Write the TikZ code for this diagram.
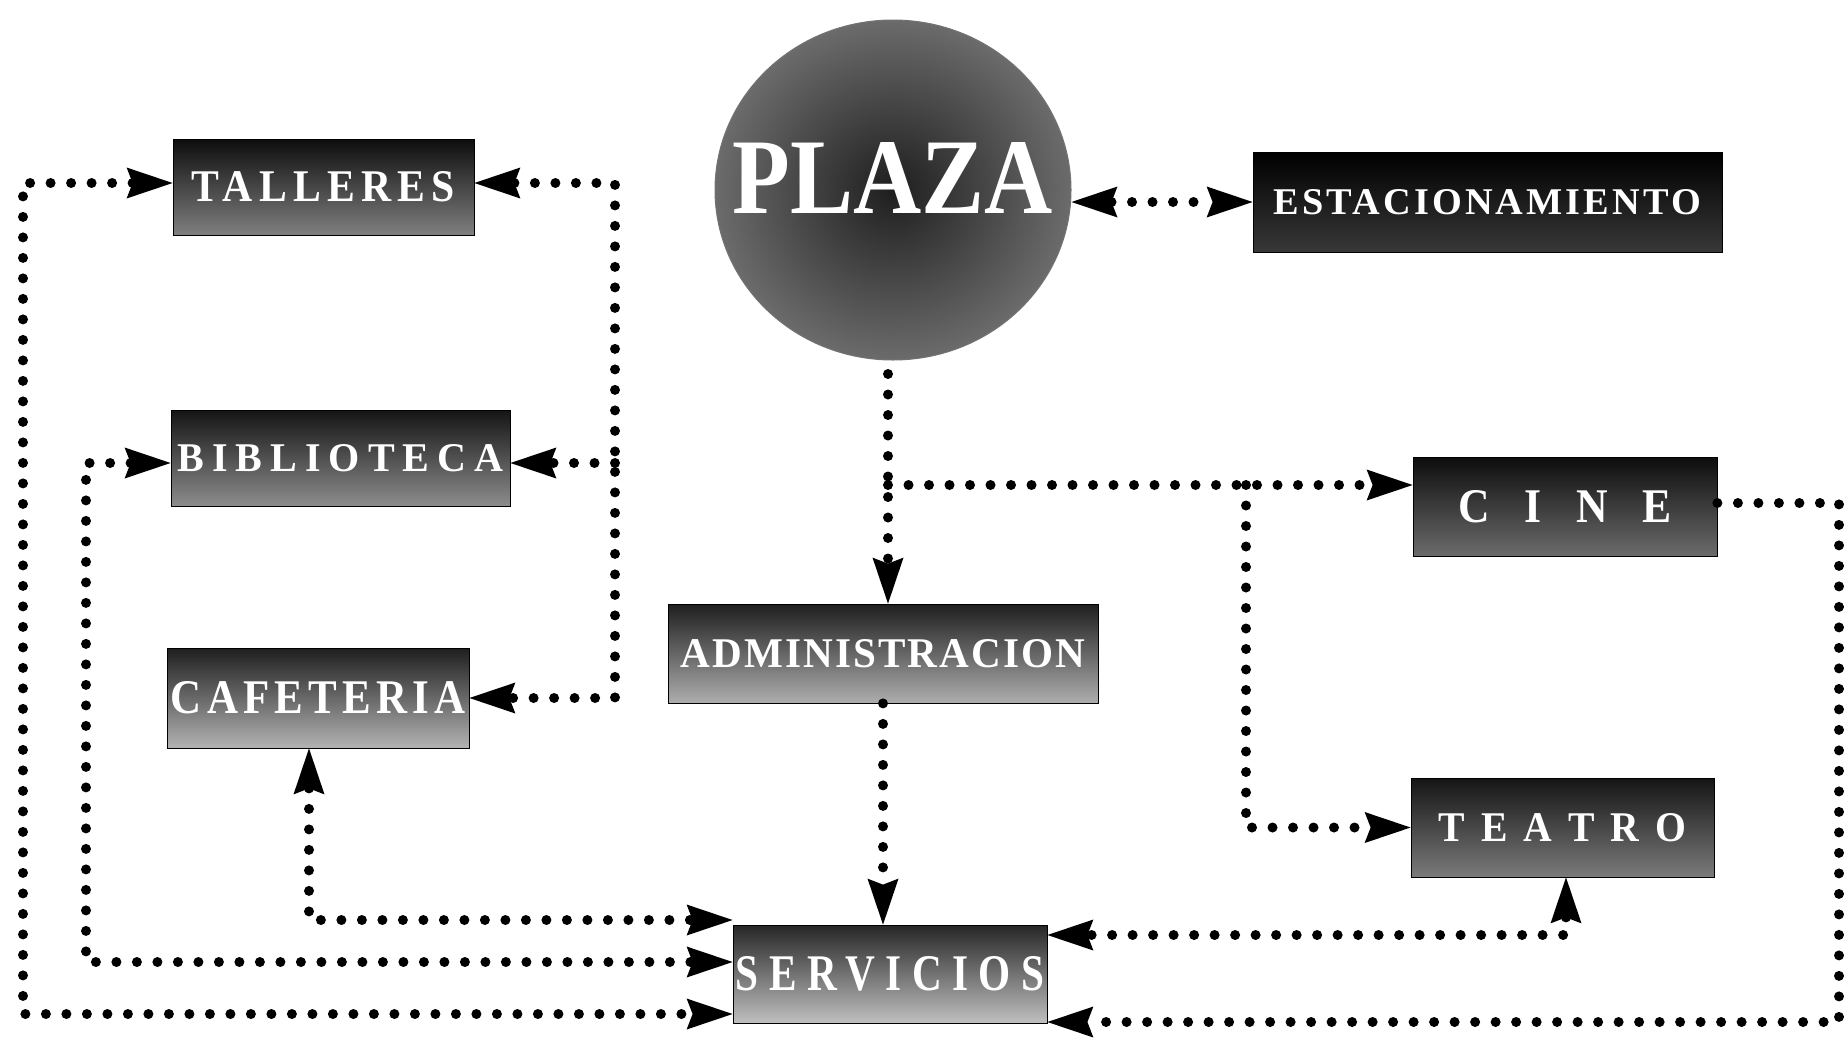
\documentclass[tikz,border=0pt]{standalone}
\usepackage{fontspec}
\setmainfont{Liberation Serif}
\usepackage{graphicx}
\usetikzlibrary{arrows.meta,shapes.geometric}
\newcommand\boxtxt[4]{\resizebox{#1pt}{#2pt}{\bfseries\addfontfeatures{LetterSpace=#3}#4}}
\begin{document}
\begin{tikzpicture}[x=1pt,y=-1pt,
  box/.style={rectangle,draw=black,line width=0.8pt,inner sep=0pt,text=white},
  con/.style={line width=10pt,dash pattern=on 0pt off 20.5pt,line cap=round,
     >={Stealth[length=46pt,width=31pt,inset=6pt,line width=0pt]}}]
\useasboundingbox (0,0) rectangle (1846,1039);

% nodes
\node[box,minimum width=301pt,minimum height=96pt,top color=black!95,bottom color=black!50] (tal) at (323.5,187) {\boxtxt{263}{30}{15}{TALLERES}};
\node[box,minimum width=339pt,minimum height=96pt,top color=black!92,bottom color=black!45] (bib) at (340.5,458) {\boxtxt{326}{27}{20}{BIBLIOTECA}};
\node[box,minimum width=302pt,minimum height=100pt,top color=black!88,bottom color=black!30] (caf) at (318,698) {\boxtxt{294}{32}{12}{CAFETERIA}};
\node[ellipse,draw=black!55,line width=1pt,minimum width=356pt,minimum height=340pt,inner sep=0pt,inner color=black!88,outer color=black!58,text=white] (plaza) at (893,190) {\smash{\makebox[0pt]{\raisebox{-23pt}{\boxtxt{320}{71}{0}{PLAZA}}}}};
\node[box,minimum width=469pt,minimum height=100pt,top color=black,bottom color=black!78] (est) at (1487.5,202) {\boxtxt{427}{25}{8}{ESTACIONAMIENTO}};
\node[box,minimum width=304pt,minimum height=99pt,top color=black!95,bottom color=black!58] (cine) at (1565,506.5) {\boxtxt{214}{32}{0}{C\hspace{0.8em}I\hspace{0.8em}N\hspace{0.8em}E}};
\node[box,minimum width=430pt,minimum height=99pt,top color=black!88,bottom color=black!32] (admin) at (883,653.5) {\boxtxt{404}{28}{5}{ADMINISTRACION}};
\node[box,minimum width=303pt,minimum height=99pt,top color=black!92,bottom color=black!52] (teatro) at (1562.5,827.5) {\boxtxt{247}{28}{0}{T\hspace{0.4em}E\hspace{0.4em}A\hspace{0.4em}T\hspace{0.4em}R\hspace{0.4em}O}};
\node[box,minimum width=314pt,minimum height=98pt,top color=black!85,bottom color=black!25] (serv) at (890,974) {\boxtxt{308}{34}{25}{SERVICIOS}};

% bend points
\coordinate (o1) at (23,1014);
\coordinate (o2) at (86,962);
\coordinate (o3) at (309,920);
\coordinate (b1) at (615,183);
\coordinate (b2) at (615,463);
\coordinate (b3) at (615,698);
\coordinate (p0) at (888,374);
\coordinate (p1) at (888,485);
\coordinate (t1) at (1246,485);
\coordinate (r1) at (1839,503);
\coordinate (r2) at (1839,1022);
\coordinate (s1) at (1566,935);

% connectors
\draw[con,<->] (tal.west |- b1) -| (o1) -- (o1 -| serv.west);
\draw[con,<->] (bib.west |- b2) -| (o2) -- (o2 -| serv.west);
\draw[con,<->] (caf.south -| o3) -- (o3) -- (o3 -| serv.west);
\draw[con,<->] (tal.east |- b1) -- (b1) -- (b3) -- (b3 -| caf.east);
\draw[con,->] (b2) -- (b2 -| bib.east);
\draw[con,->] (p0) -- (admin.north -| p0);
\draw[con,->] (p1) -- (p1 -| cine.west);
\draw[con,->] (t1) |- (teatro.west);
\draw[con,->] (admin.south) -- (serv.north -| admin.south);
\draw[con,<->] (plaza.east |- est.west) -- (est.west);
\draw[con,->] (cine.east |- r1) -- (r1) -- (r2) -- (r2 -| serv.east);
\draw[con,<->] (teatro.south -| s1) -- (s1) -- (s1 -| serv.east);
\end{tikzpicture}
\end{document}
